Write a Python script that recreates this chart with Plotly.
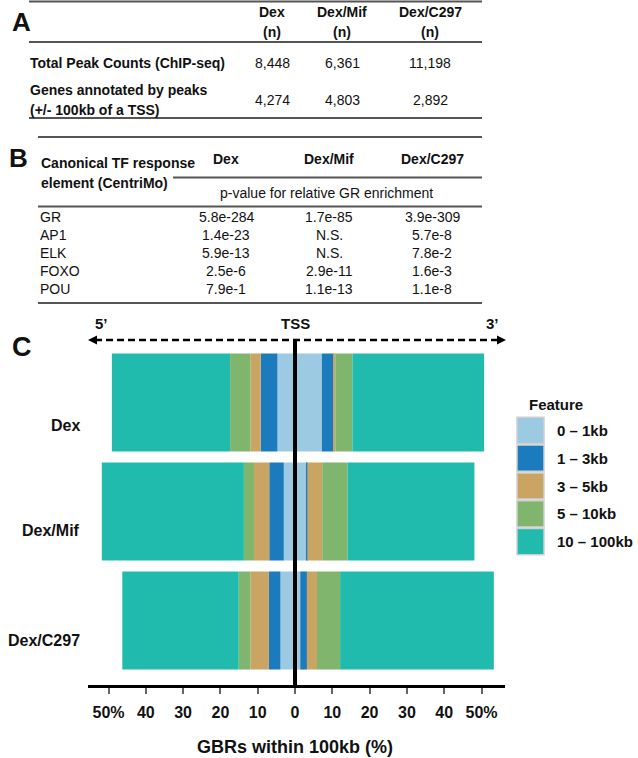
import plotly.graph_objects as go

# ---------------- data ----------------
table_a_cols = ["Dex", "Dex/Mif", "Dex/C297"]
table_a_rows = ["Total Peak Counts (ChIP-seq)", "Genes annotated by peaks<br>(+/- 100kb of a TSS)"]
table_a_peaks = ["8,448", "6,361", "11,198"]
table_a_genes = ["4,274", "4,803", "2,892"]

table_b_cols = ["Dex", "Dex/Mif", "Dex/C297"]
table_b_motifs = ["GR", "AP1", "ELK", "FOXO", "POU"]
pval_dex = ["5.8e-284", "1.4e-23", "5.9e-13", "2.5e-6", "7.9e-1"]
pval_mif = ["1.7e-85", "N.S.", "N.S.", "2.9e-11", "1.1e-13"]
pval_c297 = ["3.9e-309", "5.7e-8", "7.8e-2", "1.6e-3", "1.1e-8"]

conditions = ["Dex", "Dex/Mif", "Dex/C297"]
features = ["0 \u2013 1kb", "1 \u2013 3kb", "3 \u2013 5kb", "5 \u2013 10kb", "10 \u2013 100kb"]
# percent of GBRs upstream (5') per feature, per condition
up_0_1 = [4.7, 3.0, 3.9]
up_1_3 = [4.5, 3.9, 3.1]
up_3_5 = [2.7, 4.1, 4.9]
up_5_10 = [5.5, 2.7, 3.2]
up_10_100 = [31.7, 38.1, 31.2]
# percent of GBRs downstream (3')
dn_0_1 = [7.2, 3.2, 1.4]
dn_1_3 = [3.2, 0.1, 1.8]
dn_3_5 = [0.4, 4.0, 2.7]
dn_5_10 = [4.6, 6.8, 6.2]
dn_10_100 = [35.3, 34.0, 41.2]

tick_vals = [-50, -40, -30, -20, -10, 0, 10, 20, 30, 40, 50]
tick_text = ["50%", "40", "30", "20", "10", "0", "10", "20", "30", "40", "50%"]

colors = ["#9dcae3", "#1c7bbd", "#c9a463", "#80b56d", "#21bbad"]

FONT = "Liberation Sans, Arial, sans-serif"
W, H = 638, 758


def px(x):
    return x / W


def py(y):
    return 1 - y / H


fig = go.Figure()

ups = [up_0_1, up_1_3, up_3_5, up_5_10, up_10_100]
dns = [dn_0_1, dn_1_3, dn_3_5, dn_5_10, dn_10_100]
for i, name in enumerate(features):
    fig.add_trace(go.Bar(
        y=conditions, x=[-v for v in ups[i]], orientation="h", name=name,
        marker=dict(color=colors[i], line=dict(width=0)), width=0.9,
        showlegend=False, hoverinfo="skip"))
    fig.add_trace(go.Bar(
        y=conditions, x=dns[i], orientation="h", name=name,
        marker=dict(color=colors[i], line=dict(width=0)), width=0.9,
        showlegend=False, hoverinfo="skip"))

ann = []
shapes = []


def text(x, y, s, size=14, bold=False, anchor="center", color="#111"):
    if bold:
        s = "<b>" + s + "</b>"
    ann.append(dict(x=px(x), y=py(y), xref="paper", yref="paper", text=s,
                    showarrow=False, xanchor=anchor, yanchor="middle",
                    font=dict(family=FONT, size=size, color=color)))


def hline(x0, x1, y, w=2.2, color="#555"):
    shapes.append(dict(type="line", xref="paper", yref="paper",
                       x0=px(x0), x1=px(x1), y0=py(y), y1=py(y),
                       line=dict(color=color, width=w)))


# ---------------- table A ----------------
text(10, 22, "A", size=26, bold=True, anchor="left")
a_x = [272, 342, 430]
for xc, c in zip(a_x, table_a_cols):
    text(xc, 12, c, size=14, bold=True)
    text(xc, 32, "(n)", size=14, bold=True)
text(28, 63, table_a_rows[0], size=14, bold=True, anchor="left")
r2 = table_a_rows[1].split("<br>")
text(28, 90, r2[0], size=14, bold=True, anchor="left")
text(28, 110, r2[1], size=14, bold=True, anchor="left")
for xc, v1, v2 in zip(a_x, table_a_peaks, table_a_genes):
    text(xc, 63, v1, size=14)
    text(xc, 100, v2, size=14)
hline(29, 482, 1.5)
hline(29, 482, 42)
hline(29, 482, 118)

# ---------------- table B ----------------
text(7, 158, "B", size=26, bold=True, anchor="left")
text(39, 163, "Canonical TF response", size=14, bold=True, anchor="left")
text(39, 183, "element (CentriMo)", size=14, bold=True, anchor="left")
b_x = [226, 329, 432]
for xc, c in zip(b_x, table_b_cols):
    text(xc, 159, c, size=14, bold=True)
text(327, 193, "p-value for relative GR enrichment", size=14)
hline(38, 482, 137)
hline(173, 482, 177.5)
hline(38, 482, 206.5)
hline(38, 482, 303)
row_y = [217, 235, 253, 271, 289]
for yy, m, a, b, c in zip(row_y, table_b_motifs, pval_dex, pval_mif, pval_c297):
    text(38, yy, m, size=14, anchor="left")
    text(b_x[0], yy, a, size=14)
    text(b_x[1], yy, b, size=14)
    text(b_x[2], yy, c, size=14)

# ---------------- panel C ----------------
text(10, 347, "C", size=27, bold=True, anchor="left")
text(101, 323, "5\u2019", size=15, bold=True)
text(295, 323, "TSS", size=15, bold=True)
text(492, 323, "3\u2019", size=15, bold=True)

# dashed double arrow
shapes.append(dict(type="line", xref="paper", yref="paper",
                   x0=px(95), x1=px(498), y0=py(340), y1=py(340),
                   line=dict(color="black", width=2.5, dash="7px,4px")))
shapes.append(dict(type="path", xref="paper", yref="paper",
                   path=f"M {px(88)} {py(340)} L {px(97)} {py(335.5)} L {px(97)} {py(344.5)} Z",
                   fillcolor="black", line=dict(width=0)))
shapes.append(dict(type="path", xref="paper", yref="paper",
                   path=f"M {px(506)} {py(340)} L {px(497)} {py(335.5)} L {px(497)} {py(344.5)} Z",
                   fillcolor="black", line=dict(width=0)))
# TSS vertical line
shapes.append(dict(type="line", xref="x", yref="paper", x0=0, x1=0,
                   y0=py(685), y1=py(340), line=dict(color="black", width=4),
                   layer="above"))

# condition labels
for yy, c in zip([425, 530, 640], conditions):
    text(82, yy, c, size=16, bold=True, anchor="right")

# axis title
text(295, 747, "GBRs within 100kb (%)", size=18, bold=True)

# legend (drawn)
text(527, 404, "Feature", size=15, bold=True, anchor="left")
leg_y0 = 416.5
for i, name in enumerate(features):
    y0 = leg_y0 + 27.8 * i
    shapes.append(dict(type="rect", xref="paper", yref="paper",
                       x0=px(517), x1=px(544), y0=py(y0 + 27), y1=py(y0 + 0.8),
                       fillcolor=colors[i], line=dict(color="#d0d0d0", width=1.5)))
    text(555, y0 + 14, name, size=15, bold=True, anchor="left")

fig.update_layout(
    width=W, height=H, margin=dict(l=0, r=0, t=0, b=0),
    paper_bgcolor="white", plot_bgcolor="white",
    barmode="relative", bargap=0.1,
    showlegend=False,
    annotations=ann, shapes=shapes,
    xaxis=dict(domain=[px(88), px(505)], range=[(88 - 295) / 3.73, (505 - 295) / 3.73],
               tickvals=tick_vals, ticktext=["<b>" + t + "</b>" for t in tick_text],
               ticks="outside", ticklen=6,
               tickwidth=2, tickcolor="#666", showline=True, linecolor="black",
               linewidth=3, showgrid=False, zeroline=False,
               ticklabelstandoff=5,
               tickfont=dict(family=FONT, size=16, color="#111"),
               fixedrange=True),
    yaxis=dict(domain=[py(685), py(340)], type="category",
               categoryorder="array", categoryarray=conditions,
               range=[(685 - 402.5) / 109, (340 - 402.5) / 109],
               showticklabels=False, showgrid=False, zeroline=False,
               showline=False, ticks="", fixedrange=True),
)

fig.write_html("out.html", config={"displayModeBar": False},
               post_script="document.body.style.margin='0px';document.body.style.overflow='hidden';")
